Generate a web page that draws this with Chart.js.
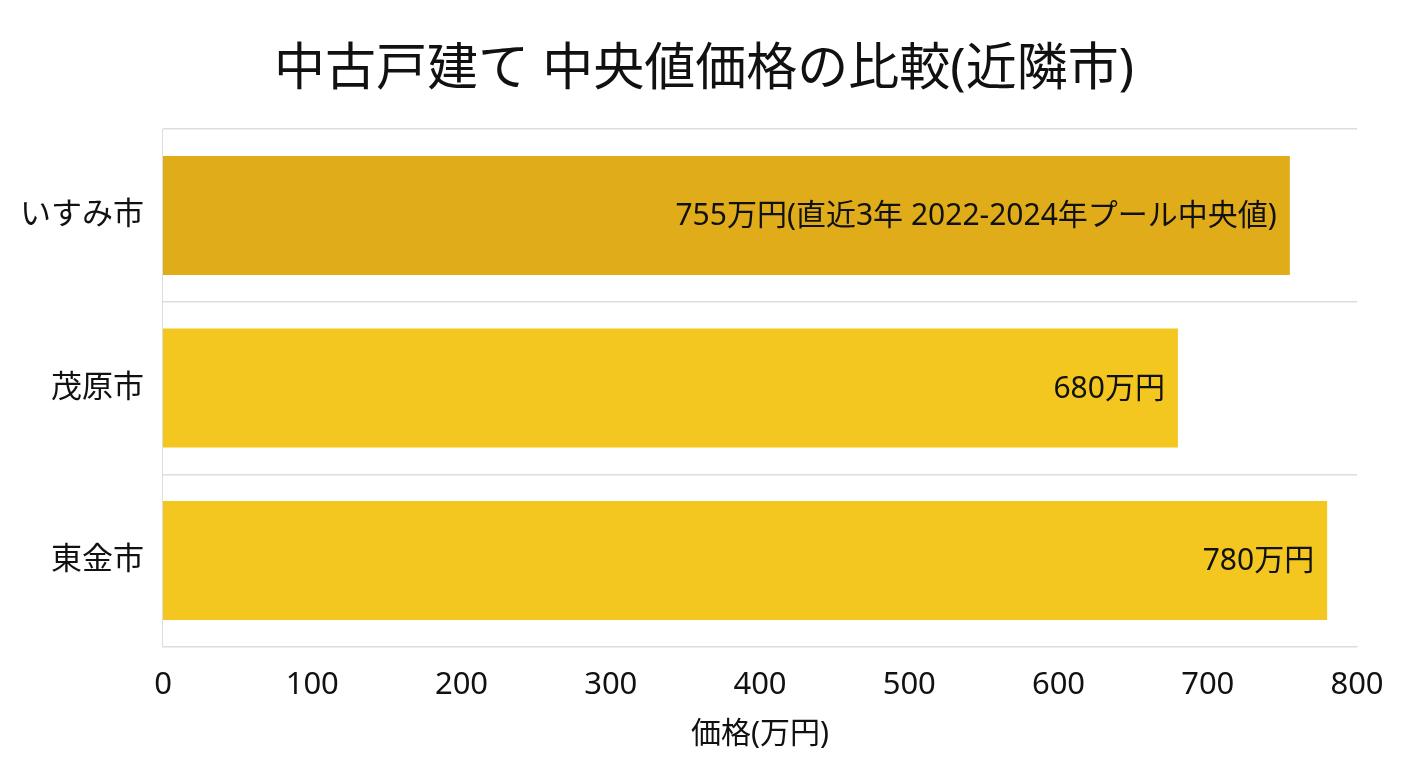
<!DOCTYPE html>
<html>
<head>
<meta charset="utf-8">
<script src="https://cdn.jsdelivr.net/npm/chart.js@4/dist/chart.umd.min.js"></script>
<style>
  html, body { margin: 0; padding: 0; background: #fff; }
  #wrap { width: 1408px; height: 768px; }
</style>
</head>
<body>
<div id="wrap"><canvas id="priceChart"></canvas></div>
<script>
const cities = ["いすみ市", "茂原市", "東金市"];
const prices = [755, 680, 780];
const barLabels = ["755万円(直近3年 2022-2024年プール中央値)", "680万円", "780万円"];
const barColors = ["#E1AC1A", "#F3C71F", "#F3C71F"];

const FONT = "'Noto Sans', 'Noto Sans CJK JP', sans-serif";

/* ---------- labels inside bar ends ---------- */
const endLabels = {
  id: "endLabels",
  afterDatasetsDraw(chart) {
    const ctx = chart.ctx;
    const meta = chart.getDatasetMeta(0);
    ctx.save();
    ctx.font = "30px " + FONT;
    ctx.fillStyle = "#111";
    ctx.textAlign = "right";
    ctx.textBaseline = "middle";
    meta.data.forEach(function (bar, i) {
      ctx.fillText(barLabels[i], bar.x - 13, bar.y + 1);
    });
    ctx.restore();
  }
};

new Chart(document.getElementById("priceChart"), {
  type: "bar",
  data: {
    labels: cities,
    datasets: [{
      data: prices,
      backgroundColor: barColors,
      borderWidth: 0,
      barPercentage: 0.69,
      categoryPercentage: 1
    }]
  },
  options: {
    indexAxis: "y",
    responsive: true,
    maintainAspectRatio: false,
    animation: false,
    layout: { padding: { left: 1, right: 1, top: 10, bottom: 16 } },
    plugins: {
      legend: { display: false },
      tooltip: { enabled: false },
      title: {
        display: true,
        text: "中古戸建て 中央値価格の比較(近隣市)",
        color: "#111",
        font: { family: FONT, size: 51, weight: "normal" },
        padding: { top: 30, bottom: 28 }
      }
    },
    scales: {
      x: {
        min: 0,
        max: 800,
        ticks: { stepSize: 100, color: "#111", font: { family: FONT, size: 31 }, padding: 20 },
        grid: { display: false, drawTicks: false },
        border: { display: true, color: "#ddd" },
        title: {
          display: true,
          text: "価格(万円)",
          color: "#111",
          font: { family: FONT, size: 30 },
          padding: { top: -8, bottom: 0 }
        }
      },
      y: {
        ticks: { color: "#111", font: { family: FONT, size: 31 }, padding: 19 },
        grid: { display: true, offset: true, color: "#ddd", lineWidth: 1.5, drawTicks: false },
        border: { display: true, color: "#ddd" }
      },
      // empty right-hand axis, only reserves space so the title stays centred on the page
      yRight: {
        axis: "y",
        type: "linear",
        position: "right",
        ticks: { display: false },
        grid: { display: false, drawTicks: false },
        border: { display: false },
        afterFit(scale) { scale.width = 50; }
      }
    }
  },
  plugins: [endLabels]
});
</script>
</body>
</html>
